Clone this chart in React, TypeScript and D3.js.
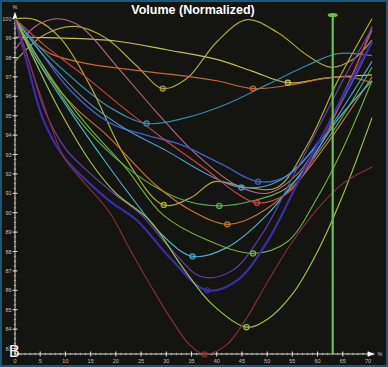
import React from "react";
import * as d3 from "d3";

const W = 388;
const H = 367;

// ---- data (x = %, y = normalized volume) ----
const wavy = [[0,97.8],[6,99.2],[12,99.6],[18,99.0],[24,97.6],[29.3,96.4],[34,96.9],[40,98.8],[46,99.95],[52,99.3],[58,98.1],[62.5,97.5],[67,97.9],[70.8,98.9]];
const paleYellow = [[0,99.05],[10,99.0],[20,98.85],[30,98.4],[40,97.9],[47,97.3],[54.1,96.7],[62,96.95],[70.8,97.1]];
const orange = [[0,100],[3,99.0],[7,98.2],[14,97.7],[22,97.4],[32,97.1],[40,96.8],[47.2,96.4],[55,96.6],[62,96.95],[66,97.0],[70.8,96.7]];
const teal = [[0,100],[5,98.5],[12,96.8],[19,95.4],[26.1,94.6],[34,94.9],[42,95.6],[50,96.6],[58,97.6],[64,98.2],[70.8,98.1]];
const flatOlive = [[0,100],[4,99.95],[9,99.0],[15,96.5],[22,92.8],[29.5,90.4],[35,90.8],[39.5,91.6],[46,91.3],[52,91.3],[58,93.5],[64,96.8],[70.8,100]];
const mauve = [[0,98.4],[4,99.6],[8.4,100],[13,99.6],[20,97.6],[28,95.2],[36,93.0],[44,91.4],[50,91.0],[56,92.0],[62,94.5],[70.8,99.4]];
const blue = [[0,100],[5,98.3],[11,96.3],[19,94.6],[26,94.0],[33,93.5],[41,92.5],[48.2,91.6],[54,91.9],[60,93.6],[66,96.3],[70.8,98.8]];
const lightBlue = [[0,100],[6,98.0],[14,95.8],[22,94.3],[30,93.2],[38,92.0],[44.9,91.3],[52,91.6],[60,93.5],[66,95.8],[70.8,97.8]];
const green = [[0,100],[5,97.8],[12,95.0],[20,92.8],[28,91.3],[34,90.6],[40.5,90.35],[47,90.6],[54,91.3],[62,93.8],[70.8,97.5]];
const red = [[0,100],[6,98.6],[14,97.0],[22,95.3],[30,93.7],[38,92.2],[44,91.0],[48,90.5],[54,91.0],[60,93.2],[66,96.5],[70.8,99.6]];
const orange2 = [[0,100],[5,97.6],[12,95.4],[18.2,94.0],[28,91.4],[35,90.1],[42.1,89.4],[48,89.9],[55,91.3],[62,93.6],[70.8,97.0]];
const cyan = [[0,100],[5,97.6],[11,95.2],[18,92.6],[24,90.5],[29,88.9],[35.2,87.75],[42,88.2],[50,89.9],[58,92.5],[64,94.8],[70.8,96.8]];
const green2 = [[0,100],[6,97.4],[14,94.6],[22,92.3],[29.3,89.9],[38,88.6],[47.2,87.9],[54,88.5],[60,90.8],[65,93.3],[70.8,96.8]];
const indigo = [[0,100],[2.5,97.6],[5.6,94.8],[9.6,92.9],[14,91.7],[18.8,90.6],[24.2,89.6],[31,87.6],[38.1,86.0],[44,86.5],[50,88.5],[56,91.5],[62,94.5],[67,97.0],[70.8,98.8]];
const purple = [[0,100],[2.8,97.8],[6,95.2],[10,93.3],[15,92.0],[20,90.9],[25,89.9],[31,88.1],[37,86.7],[43,87.0],[49,88.9],[55,91.8],[61,94.8],[66,97.3],[70.8,99.5]];
const yellowGreen = [[0,100],[4,97.8],[9,95.2],[15,92.6],[20,91.0],[26.7,89.6],[33.2,87.2],[39,85.3],[45.9,84.1],[50,84.5],[55,85.8],[60,88.0],[65,90.9],[70.8,94.9]];
const darkRed = [[0,100],[2.5,98],[5.4,95.8],[9.6,92.9],[12.9,91.8],[18.8,90.0],[22.8,88.1],[27,86.2],[31,84.5],[34.6,83.2],[37.6,82.7],[42,83.2],[46,84.6],[50,86.4],[55,88.5],[60,90.2],[65,91.5],[70.8,92.35]];

const seriesData = [wavy, paleYellow, orange, teal, flatOlive, mauve, blue, lightBlue, green, red, orange2, cyan, green2, indigo, purple, yellowGreen, darkRed];
const seriesMarked = [true, true, true, true, true, false, true, true, true, true, true, true, true, true, false, true, true];

const xTicks = d3.range(0, 71, 5);
const yTicks = d3.range(83, 101, 1);
const cursorX = 63;
const titleText = "Volume (Normalized)";
const panelLabel = "B";
const unitLabel = "%";

// ---- styles ----
const seriesColors = ["#aaa53a", "#c4bf58", "#c6692e", "#3a88ae", "#b2ac34", "#b26a8c", "#3f5fc4", "#4d9cd2", "#58b04a", "#c84444", "#c8782e", "#48b0c8", "#74b244", "#3a2caa", "#6a40b8", "#9cc244", "#8a3038"];
const seriesWidths = [1.2, 1.2, 1.2, 1.2, 1.2, 1.1, 1.4, 1.1, 1.1, 1.2, 1.1, 1.2, 1.1, 2.2, 1.1, 1.2, 1.1];

export default function App() {
  const x = d3.scaleLinear().domain([0, 70]).range([15, 368]);
  const y = d3.scaleLinear().domain([83, 100]).range([348.5, 18.7]);
  const axisY = 354;
  const axisX = x(0);
  const line = d3
    .line<number[]>()
    .x((d) => x(d[0]))
    .y((d) => y(d[1]))
    .curve(d3.curveCatmullRom.alpha(0.5));

  const yMinor = d3.range(82.75, 100.26, 0.25);
  const xMinor = d3.range(0, 72, 1);
  const font = "Liberation Sans, Arial, sans-serif";

  return (
    <div style={{ position: "absolute", left: 0, top: 0 }}>
      <svg width={W} height={H} style={{ display: "block" }}>
        <rect x={0} y={0} width={W} height={H} fill="#1d5676" />
        <rect x={2} y={2} width={W - 4} height={H - 4} fill="#141410" />
        <text x={193} y={14} textAnchor="middle" fill="#ffffff" fontFamily={font} fontWeight="bold" fontSize={12.5}>
          {titleText}
        </text>

        {/* axes */}
        <g stroke="#d8d8d8" strokeWidth={1}>
          <line x1={axisX} y1={axisY} x2={370} y2={axisY} />
          <line x1={axisX} y1={axisY} x2={axisX} y2={16} />
          {yMinor.map((v, i) => (
            <line key={"ym" + i} x1={axisX - 1.2} x2={axisX + 1.2} y1={y(v)} y2={y(v)} strokeWidth={0.6} />
          ))}
          {yTicks.map((v) => (
            <line key={"yt" + v} x1={axisX - 2.5} x2={axisX + 2.5} y1={y(v)} y2={y(v)} />
          ))}
          {xMinor.map((v) => (
            <line key={"xm" + v} x1={x(v)} x2={x(v)} y1={axisY - 1.2} y2={axisY + 1.2} strokeWidth={0.6} />
          ))}
          {xTicks.map((v) => (
            <line key={"xt" + v} x1={x(v)} x2={x(v)} y1={axisY - 2.5} y2={axisY + 2.5} />
          ))}
        </g>
        <path d={`M${axisX - 2.5},${19} L${axisX},${12} L${axisX + 2.5},${19} Z`} fill="#ffffff" />
        <path d={`M${368},${axisY - 2.5} L${375},${axisY} L${368},${axisY + 2.5} Z`} fill="#ffffff" />
        <text x={axisX} y={9} textAnchor="middle" fill="#c8c8c8" fontFamily={font} fontSize={5.5}>{unitLabel}</text>
        <text x={380} y={axisY + 2} textAnchor="middle" fill="#c8c8c8" fontFamily={font} fontSize={5.5}>{unitLabel}</text>
        {yTicks.map((v) => (
          <text key={"yl" + v} x={axisX - 3.5} y={y(v) + 2} textAnchor="end" fill="#c0c0c0" fontFamily={font} fontSize={5.5}>
            {v}
          </text>
        ))}
        {xTicks.map((v) => (
          <text key={"xl" + v} x={x(v)} y={axisY + 8.5} textAnchor="middle" fill="#c0c0c0" fontFamily={font} fontSize={5.5}>
            {v}
          </text>
        ))}

        {/* series */}
        <g fill="none">
          {seriesData.map((s, i) => (
            <path key={"s" + i} d={line(s) || ""} stroke={seriesColors[i]} strokeWidth={seriesWidths[i]} />
          ))}
        </g>
        {seriesData.map((s, i) => {
          if (!seriesMarked[i]) return null;
          const m = s.reduce((a, b) => (b[1] < a[1] ? b : a), s[0]);
          return (
            <circle key={"m" + i} cx={x(m[0])} cy={y(m[1])} r={2.6} fill={seriesColors[i]} fillOpacity={0.25} stroke={seriesColors[i]} strokeWidth={1.1} />
          );
        })}

        {/* cursor */}
        <line x1={x(cursorX)} x2={x(cursorX)} y1={15} y2={axisY} stroke="#6cc040" strokeWidth={2.2} />
        <ellipse cx={x(cursorX)} cy={15} rx={5} ry={2} fill="#6cc040" />

        <text x={9} y={357} fill="#ffffff" fontFamily={font} fontSize={16}>
          {panelLabel}
        </text>
      </svg>
    </div>
  );
}
